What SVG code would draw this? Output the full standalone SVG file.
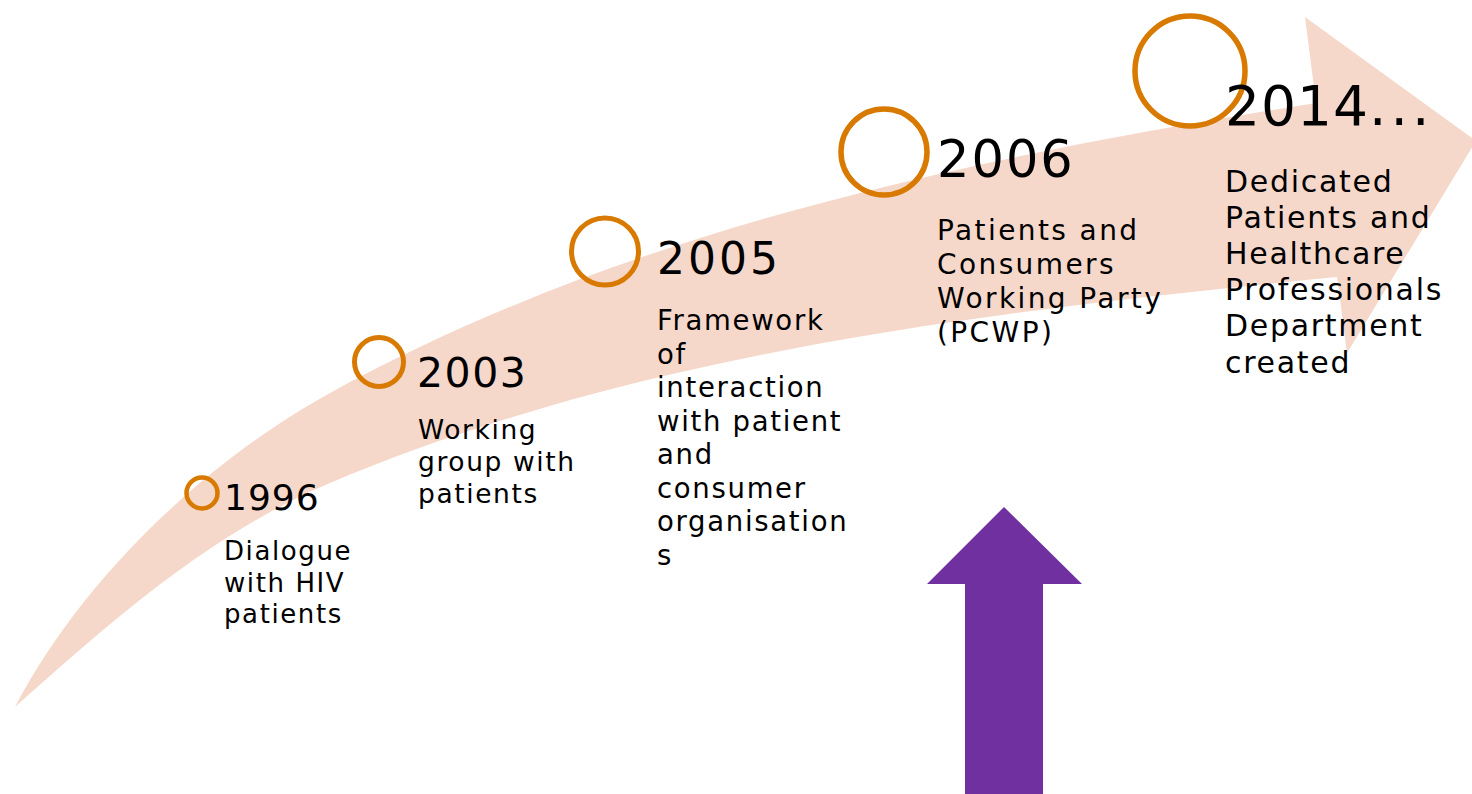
<svg xmlns="http://www.w3.org/2000/svg" width="1472" height="794" viewBox="0 0 1472 794">
  <style>
    .band { fill: #F6D8CB; }
    .ring { fill: none; stroke: #D87A00; }
    .year { font-family: "DejaVu Sans", "Liberation Sans", sans-serif; fill: #000; }
    .desc { font-family: "DejaVu Sans", "Liberation Sans", sans-serif; fill: #000; }
    .up { fill: #7030A0; }
  </style>
  <rect width="1472" height="794" fill="#FFFFFF"/>
  <g id="connectors">
    <path id="timeline-arrow" class="band" d="M15,707 C90,565 220,453.5 330,393 C630,228 977,157 1316,103 L1305,17 L1476,141 L1347,353 L1337,277 C996,311 646,350 330,483 C211,533 111,621 15,707 Z"/>
  </g>
  <g id="node-1996">
    <circle class="ring" cx="202" cy="493" r="15.5" stroke-width="4.5"/>
    <text class="year" x="224" y="510" font-size="36" letter-spacing="1">1996</text>
    <text class="desc" x="224" y="560" font-size="26" letter-spacing="1.6">
      <tspan x="224" y="560">Dialogue</tspan>
      <tspan x="224" y="591.7">with HIV</tspan>
      <tspan x="224" y="623.4">patients</tspan>
    </text>
  </g>
  <g id="node-2003">
    <circle class="ring" cx="379" cy="362" r="24.5" stroke-width="5"/>
    <text class="year" x="417" y="387" font-size="41" letter-spacing="1.5">2003</text>
    <text class="desc" x="418" y="439" font-size="26.5" letter-spacing="1.6">
      <tspan x="418" y="439">Working</tspan>
      <tspan x="418" y="471">group with</tspan>
      <tspan x="418" y="503">patients</tspan>
    </text>
  </g>
  <g id="node-2005">
    <circle class="ring" cx="605" cy="251.5" r="33.5" stroke-width="5"/>
    <text class="year" x="657" y="274" font-size="44" letter-spacing="3">2005</text>
    <text class="desc" x="657" y="330" font-size="27.5" letter-spacing="1.7">
      <tspan x="657" y="330">Framework</tspan>
      <tspan x="657" y="363.5">of</tspan>
      <tspan x="657" y="397">interaction</tspan>
      <tspan x="657" y="430.5">with patient</tspan>
      <tspan x="657" y="464">and</tspan>
      <tspan x="657" y="497.5">consumer</tspan>
      <tspan x="657" y="531">organisation</tspan>
      <tspan x="657" y="564.5">s</tspan>
    </text>
  </g>
  <g id="node-2006">
    <circle class="ring" cx="884" cy="152" r="43" stroke-width="5.5"/>
    <text class="year" x="937" y="177" font-size="51" letter-spacing="2">2006</text>
    <text class="desc" x="937" y="239.5" font-size="28" letter-spacing="2.4">
      <tspan x="937" y="239.5">Patients and</tspan>
      <tspan x="937" y="273.5">Consumers</tspan>
      <tspan x="937" y="307.5">Working Party</tspan>
      <tspan x="937" y="341.5">(PCWP)</tspan>
    </text>
  </g>
  <g id="node-2014">
    <circle class="ring" cx="1190" cy="71" r="55" stroke-width="5.5"/>
    <text class="year" x="1225" y="125" font-size="55" letter-spacing="1">2014<tspan letter-spacing="4">...</tspan></text>
    <text class="desc" x="1225" y="191.5" font-size="30" letter-spacing="1.7">
      <tspan x="1225" y="191.5">Dedicated</tspan>
      <tspan x="1225" y="227.7">Patients and</tspan>
      <tspan x="1225" y="263.9">Healthcare</tspan>
      <tspan x="1225" y="300.1">Professionals</tspan>
      <tspan x="1225" y="336.3">Department</tspan>
      <tspan x="1225" y="372.5">created</tspan>
    </text>
  </g>
  <g id="purple-arrow">
    <polygon class="up" points="1004,507 1082,584 1043,584 1043,794 965,794 965,584 927,584"/>
  </g>
</svg>
